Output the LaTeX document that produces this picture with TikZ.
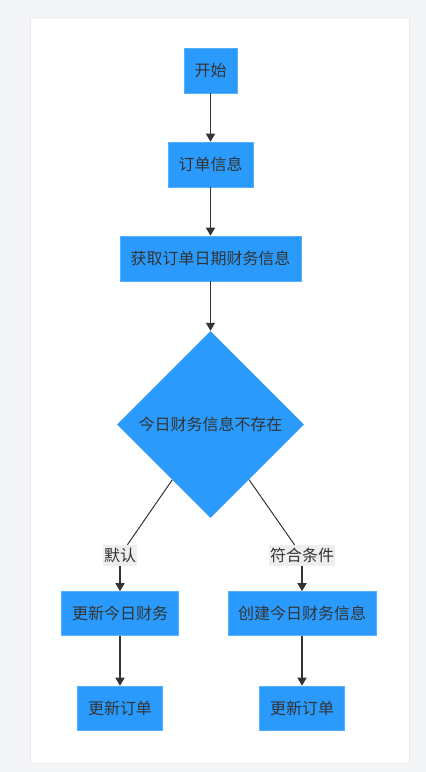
\documentclass[tikz,border=0pt]{standalone}
\usepackage{fontspec}
\setmainfont{Noto Sans CJK SC}
\usetikzlibrary{arrows.meta,shapes.geometric}
\definecolor{pagegray}{HTML}{F4F5F7}
\definecolor{panelline}{HTML}{E9EAEC}
\definecolor{stepblue}{HTML}{2A9BFC}
\definecolor{stepline}{HTML}{55B0FD}
\definecolor{inkgray}{HTML}{333333}
\definecolor{tagfill}{HTML}{EEEEEE}
\newcommand{\cnfont}{\fontsize{16}{19}\selectfont}

\begin{document}
\begin{tikzpicture}[x=1pt,y=-1pt,
	stepbox/.style={rectangle, fill=stepblue, draw=stepline, line width=0.6pt, text=inkgray, inner sep=0pt, minimum height=45pt, font=\cnfont},
	decision/.style={diamond, fill=stepblue, text=inkgray, inner sep=0pt, minimum width=187pt, minimum height=187pt, font=\cnfont},
	tag/.style={rectangle, fill=tagfill, text=inkgray, inner xsep=1pt, inner ysep=0pt, minimum height=21pt, font=\cnfont},
	flow/.style={draw=inkgray, line width=1.4pt, -{Triangle[length=8pt,width=9pt]}},
	branch/.style={draw=inkgray, line width=1pt}]
	\useasboundingbox (0,0) rectangle (426,772);
	\fill[pagegray] (0,0) rectangle (426,772);
	\filldraw[fill=white, draw=panelline, line width=0.8pt] (30,17) rectangle (409,763);

	\node[stepbox, minimum width=53pt] (start) at (210.5,70.5) {开始};
	\node[stepbox, minimum width=85pt] (order) at (210.5,164.5) {订单信息};
	\node[stepbox, minimum width=181pt] (fetch) at (210.5,258.5) {获取订单日期财务信息};
	\node[decision] (cond) at (210.5,424.5) {今日财务信息不存在};
	\node[tag] (ldefault) at (120,555.5) {默认};
	\node[tag] (lmatch) at (302,555.5) {符合条件};
	\node[stepbox, minimum width=117pt, minimum height=44pt] (update) at (120,613.5) {更新今日财务};
	\node[stepbox, minimum width=148pt, minimum height=44pt] (create) at (302,613.5) {创建今日财务信息};
	\node[stepbox, minimum width=85pt, minimum height=44pt] (lorder) at (120,708) {更新订单};
	\node[stepbox, minimum width=85pt, minimum height=44pt] (rorder) at (302,708) {更新订单};

	\draw[flow] (start) -- (order);
	\draw[flow] (order) -- (fetch);
	\draw[flow] (fetch) -- (cond);
	\draw[branch] (cond) -- (ldefault);
	\draw[branch] (cond) -- (lmatch);
	\draw[flow] (ldefault) -- (update);
	\draw[flow] (lmatch) -- (create);
	\draw[flow] (update) -- (lorder);
	\draw[flow] (create) -- (rorder);
\end{tikzpicture}
\end{document}
